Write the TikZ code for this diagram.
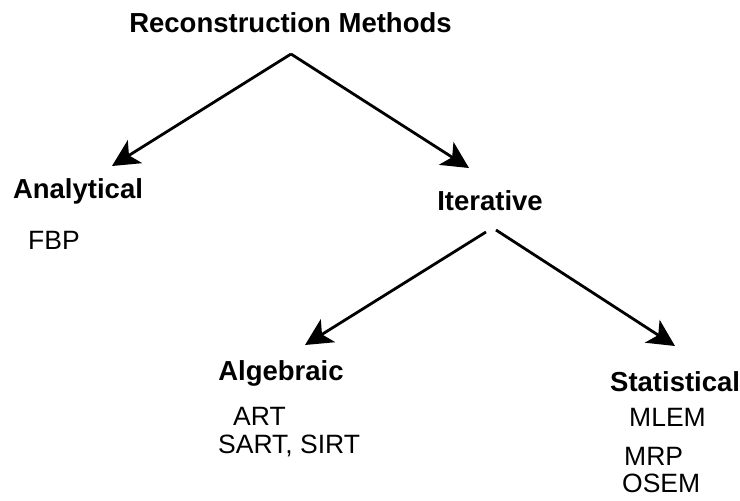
\documentclass[tikz,border=0pt]{standalone}
\usepackage{fontspec}
\setmainfont{Liberation Sans}
\usetikzlibrary{arrows.meta}
\begin{document}
\begin{tikzpicture}[x=1pt,y=-1pt,
  head/.style={font=\fontsize{27.5}{30}\selectfont\bfseries, inner sep=0pt},
  item/.style={font=\fontsize{26.5}{30}\selectfont, inner sep=0pt, anchor=base west},
  link/.style={line width=2.8pt, -{Stealth[length=27pt,width=27pt,inset=7pt]}}]
\useasboundingbox (0,0) rectangle (740,501);
\node[head, anchor=base] (title) at (290.5,32) {Reconstruction Methods};
\node[head, anchor=base] (analytical) at (78,198) {Analytical};
\node[item] (fbp) at (28,249) {FBP};
\node[head, anchor=base] (iterative) at (490,210) {Iterative};
\node[head, anchor=base] (algebraic) at (281,380) {Algebraic};
\node[item] (art) at (233,425) {ART};
\node[item] (sart) at (218,453) {SART, SIRT};
\node[head, anchor=base west] (statistical) at (610,391) {Statistical};
\node[item] (mlem) at (629,426) {MLEM};
\node[item] (mrp) at (624,465) {MRP};
\node[item] (osem) at (622,492) {OSEM};
\coordinate (apex) at (291,54);
\coordinate (tipA) at (112,166);
\coordinate (tipI) at (469,168);
\coordinate (itL) at (486,232);
\coordinate (itR) at (496,230);
\coordinate (tipAl) at (305,345);
\coordinate (tipS) at (675,346);
\draw[link] (apex) -- (tipA);
\draw[link] (apex) -- (tipI);
\draw[link] (itL) -- (tipAl);
\draw[link] (itR) -- (tipS);
\end{tikzpicture}
\end{document}
